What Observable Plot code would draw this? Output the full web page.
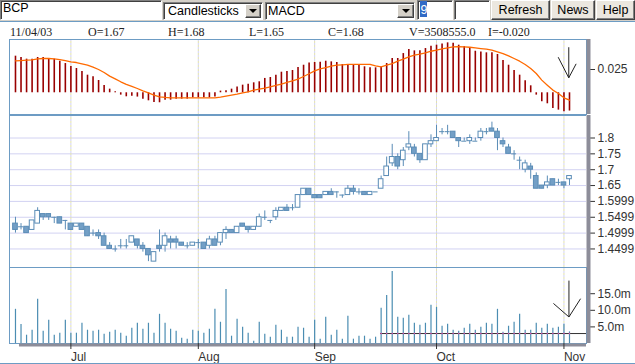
<!DOCTYPE html>
<html>
<head>
<meta charset="utf-8">
<script src="https://cdn.jsdelivr.net/npm/d3@7"></script>
<script src="https://cdn.jsdelivr.net/npm/@observablehq/plot@0.6"></script>
<style>
html,body{margin:0;padding:0;background:#fff;}
body{width:635px;height:364px;overflow:hidden;position:relative;}
svg{display:block;}
#toolbar{position:absolute;left:0;top:0;width:635px;height:21px;background:#d4d0c8;font-family:"Liberation Sans",Arial,sans-serif;font-size:12.5px;color:#000;}
#toolbar .box{position:absolute;box-sizing:border-box;background:#fff;border:1px solid;border-color:#808080 #fff #fff #808080;box-shadow:inset 1px 1px 0 #404040;}
#toolbar .txt{position:absolute;line-height:13px;white-space:nowrap;}
#toolbar .arrow{position:absolute;box-sizing:border-box;background:#d4d0c8;border:1px solid;border-color:#fff #404040 #404040 #fff;box-shadow:inset -1px -1px 0 #808080;}
#toolbar .arrow:after{content:"";position:absolute;left:50%;top:50%;margin-left:-4px;margin-top:-2px;border-left:4px solid transparent;border-right:4px solid transparent;border-top:4px solid #000;}
#toolbar .btn{position:absolute;top:0;height:20px;box-sizing:border-box;background:#ebe7df;border:1px solid;border-color:#fff #404040 #404040 #fff;box-shadow:inset -1px -1px 0 #808080;}
#toolbar .btn span{position:absolute;left:0;right:0;top:3.4px;text-align:center;line-height:13px;}
#topline{position:absolute;left:0;top:21px;width:635px;height:1px;background:#6d9cc4;}
#info{position:absolute;left:0;top:22px;width:635px;height:16px;background:#fff;font-family:"Liberation Serif","Times New Roman",serif;font-size:12px;color:#222;}
#info span{position:absolute;top:4px;line-height:12px;white-space:nowrap;}
#charts{position:absolute;left:0;top:38px;width:635px;}
#bottomline{position:absolute;left:0;top:363px;width:635px;height:1px;background:#6d9cc4;}
</style>
</head>
<body>
<div id="toolbar">
  <div class="box" style="left:0;top:0;width:162px;height:20px;"></div>
  <div class="txt" style="left:3px;top:2.4px;">BCP</div>
  <div class="box" style="left:163px;top:2px;width:100px;height:18px;"></div>
  <div class="txt" style="left:168px;top:5.4px;">Candlesticks</div>
  <div class="arrow" style="left:245px;top:4px;width:16px;height:14px;"></div>
  <div class="box" style="left:265px;top:2px;width:150px;height:18px;"></div>
  <div class="txt" style="left:268px;top:5.4px;">MACD</div>
  <div class="arrow" style="left:397px;top:4px;width:17px;height:14px;"></div>
  <div class="box" style="left:417px;top:0;width:36px;height:20px;"></div>
  <div style="position:absolute;left:420px;top:1px;width:7px;height:16px;background:#316ac5;"></div>
  <div class="txt" style="left:420.5px;top:3.8px;color:#fff;">9</div>
  <div class="box" style="left:454px;top:0;width:36px;height:20px;"></div>
  <div class="btn" style="left:491px;width:59px;"><span>Refresh</span></div>
  <div class="btn" style="left:551px;width:44px;"><span>News</span></div>
  <div class="btn" style="left:596px;width:39px;"><span>Help</span></div>
</div>
<div id="topline"></div>
<div id="info"></div>
<div id="charts"></div>
<div id="bottomline"></div>
<script>
// ---- data (trading days 17 Jun 2003 .. 4 Nov 2003, by index) ----
const open = [1.53,1.52,1.52,1.51,1.53,1.56,1.56,1.55,1.55,1.54,
1.53,1.52,1.53,1.52,1.50,1.50,1.49,1.46,1.45,1.46,
1.46,1.47,1.48,1.46,1.45,1.41,1.46,1.46,1.48,1.48,
1.47,1.46,1.46,1.47,1.47,1.46,1.48,1.47,1.50,1.51,
1.50,1.53,1.52,1.51,1.52,1.55,1.54,1.55,1.57,1.58,
1.58,1.58,1.62,1.64,1.62,1.62,1.62,1.63,1.63,1.62,
1.62,1.64,1.63,1.63,1.62,1.63,1.64,1.68,1.72,1.74,
1.73,1.77,1.77,1.75,1.73,1.78,1.79,1.82,1.82,1.82,
1.80,1.79,1.79,1.79,1.80,1.82,1.83,1.82,1.79,1.77,
1.75,1.73,1.70,1.71,1.68,1.65,1.65,1.67,1.66,1.66,
1.67];
const high = [1.55,1.53,1.52,1.54,1.58,1.56,1.56,1.55,1.55,1.54,
1.53,1.53,1.53,1.52,1.51,1.51,1.50,1.47,1.46,1.48,
1.48,1.49,1.48,1.47,1.45,1.44,1.51,1.50,1.49,1.49,
1.47,1.47,1.47,1.48,1.47,1.49,1.49,1.50,1.52,1.51,
1.52,1.53,1.52,1.52,1.56,1.57,1.54,1.58,1.58,1.59,
1.59,1.62,1.64,1.64,1.62,1.62,1.63,1.64,1.63,1.62,
1.65,1.65,1.64,1.63,1.63,1.63,1.68,1.74,1.78,1.75,
1.77,1.82,1.78,1.75,1.78,1.81,1.84,1.83,1.84,1.82,
1.80,1.80,1.81,1.80,1.83,1.83,1.85,1.83,1.80,1.78,
1.76,1.74,1.73,1.72,1.69,1.65,1.68,1.67,1.67,1.66,
1.68];
const low = [1.50,1.51,1.50,1.51,1.53,1.54,1.54,1.53,1.53,1.51,
1.51,1.52,1.51,1.49,1.49,1.48,1.46,1.45,1.44,1.45,
1.45,1.47,1.45,1.44,1.41,1.41,1.44,1.44,1.45,1.45,
1.46,1.45,1.46,1.45,1.45,1.45,1.46,1.46,1.48,1.50,
1.50,1.52,1.50,1.51,1.52,1.54,1.53,1.54,1.57,1.57,
1.57,1.58,1.62,1.62,1.61,1.61,1.62,1.62,1.61,1.61,
1.62,1.62,1.62,1.62,1.62,1.63,1.64,1.68,1.71,1.70,
1.71,1.76,1.74,1.72,1.73,1.77,1.79,1.81,1.81,1.80,
1.77,1.79,1.78,1.79,1.79,1.81,1.82,1.76,1.77,1.75,
1.73,1.70,1.69,1.67,1.64,1.64,1.64,1.65,1.65,1.64,
1.65];
const close = [1.51,1.52,1.50,1.54,1.57,1.55,1.55,1.55,1.53,1.54,
1.51,1.53,1.51,1.49,1.50,1.49,1.46,1.45,1.45,1.46,
1.46,1.49,1.46,1.45,1.43,1.44,1.45,1.49,1.47,1.47,
1.46,1.46,1.47,1.47,1.45,1.48,1.46,1.50,1.51,1.50,
1.52,1.52,1.51,1.52,1.55,1.55,1.54,1.57,1.58,1.57,
1.58,1.62,1.64,1.62,1.61,1.61,1.63,1.62,1.63,1.62,
1.64,1.63,1.63,1.62,1.63,1.63,1.67,1.71,1.74,1.71,
1.76,1.78,1.75,1.73,1.78,1.79,1.80,1.82,1.82,1.80,
1.79,1.79,1.80,1.79,1.82,1.82,1.82,1.80,1.78,1.75,
1.75,1.73,1.72,1.70,1.64,1.64,1.66,1.65,1.66,1.65,
1.68];
// volume in millions of shares
const volume = [10.3,5.7,2.5,4.0,13.3,3.7,7.0,2.5,3.1,7.0,
3.1,3.1,6.1,4.0,3.7,4.0,2.8,3.4,4.0,3.1,
2.2,4.6,6.1,4.3,6.1,3.1,8.8,6.1,4.3,3.7,
1.6,1.3,4.0,3.7,3.1,4.3,10.3,6.4,16.3,2.2,
7.3,4.9,3.1,0.7,6.4,2.8,1.9,5.5,4.0,1.9,
1.9,4.9,4.6,1.9,7.0,1.3,7.9,2.5,4.0,1.3,
8.2,1.3,2.2,2.2,1.3,1.9,10.6,14.5,21.7,7.9,
7.6,8.5,6.1,5.5,6.1,11.5,10.9,5.2,5.8,4.0,
3.7,4.6,5.8,4.0,4.9,6.1,5.8,10.3,3.4,5.2,
6.4,8.8,4.0,4.0,6.1,4.6,5.8,4.6,4.9,5.8,
3.5];
const macdHist = [0.0393,0.0379,0.0361,0.0361,0.0379,0.0379,0.0361,0.0361,0.0339,0.0314,
0.0282,0.0261,0.0229,0.0189,0.0171,0.0132,0.0079,0.0039,0.0011,-0.0025,
-0.0043,-0.0036,-0.0046,-0.0068,-0.0086,-0.0104,-0.0107,-0.0079,-0.0079,-0.0068,
-0.0068,-0.0068,-0.0054,-0.0054,-0.0054,-0.0054,-0.0046,0.0018,0.0021,0.0039,
0.0061,0.0082,0.0093,0.0107,0.0118,0.0154,0.0164,0.0189,0.0221,0.0229,
0.0239,0.0271,0.0296,0.0321,0.0325,0.0327,0.0339,0.0332,0.0325,0.0304,
0.0304,0.0304,0.0296,0.0279,0.0268,0.0268,0.0279,0.0314,0.0368,0.0368,
0.0421,0.0464,0.0450,0.0450,0.0475,0.0500,0.0511,0.0525,0.0536,0.0532,
0.0511,0.0496,0.0486,0.0446,0.0439,0.0429,0.0429,0.0411,0.0346,0.0296,
0.0239,0.0189,0.0129,0.0075,-0.0025,-0.0096,-0.0118,-0.0168,-0.0186,-0.0204,
-0.0196];
const macdSignal = [0.0343,0.0346,0.0350,0.0354,0.0364,0.0368,0.0368,0.0364,0.0357,0.0346,
0.0332,0.0325,0.0311,0.0296,0.0275,0.0250,0.0218,0.0179,0.0150,0.0118,
0.0090,0.0068,0.0046,0.0021,0.0000,-0.0025,-0.0043,-0.0050,-0.0054,-0.0054,
-0.0054,-0.0054,-0.0054,-0.0054,-0.0054,-0.0054,-0.0054,-0.0046,-0.0036,-0.0025,
-0.0014,0.0000,0.0011,0.0029,0.0039,0.0050,0.0064,0.0079,0.0093,0.0111,
0.0129,0.0146,0.0175,0.0204,0.0236,0.0257,0.0271,0.0286,0.0296,0.0300,
0.0304,0.0304,0.0304,0.0304,0.0304,0.0289,0.0279,0.0296,0.0314,0.0339,
0.0361,0.0386,0.0404,0.0414,0.0429,0.0446,0.0457,0.0471,0.0482,0.0493,
0.0496,0.0493,0.0489,0.0482,0.0475,0.0468,0.0457,0.0439,0.0421,0.0396,
0.0368,0.0339,0.0304,0.0261,0.0207,0.0136,0.0082,0.0029,-0.0007,-0.0054,
-0.0079];
const monthIdx = [10, 33, 54, 76, 99];
const monthLabels = ["Jul", "Aug", "Sep", "Oct", "Nov"];
const priceTicks = [1.8, 1.75, 1.7, 1.65, 1.6, 1.55, 1.5, 1.45];
const priceTickLabels = ["1.8", "1.75", "1.7", "1.65", "1.5999", "1.5499", "1.4999", "1.4499"];
const macdTicks = [0.025];
const macdTickLabels = ["0.025"];
const volTicks = [5, 10, 15];
const volTickLabels = ["5.0m", "10.0m", "15.0m"];
const avgVolume = 3.0;
const avgStart = 66;
const lastDate = "11/04/03";
const lastVolumeExact = "3508555.0";
// hand-drawn arrows (data units: day index, value)
const macdArrowX1 = [99.87, 97.96, 101.2], macdArrowY1 = [0.0489, 0.0382, 0.0311];
const macdArrowX2 = [99.87, 99.87, 99.87], macdArrowY2 = [0.0161, 0.0161, 0.0161];
const volArrowX1 = [99.9, 97.1, 102.0], volArrowY1 = [18.95, 12.07, 13.5];
const volArrowX2 = [99.9, 99.9, 99.9], volArrowY2 = [8.0, 8.0, 8.0];

// ---- info row ----
const last = open.length - 1;
const infoTexts = [lastDate, `O=${open[last].toFixed(2)}`, `H=${high[last].toFixed(2)}`, `L=${low[last].toFixed(2)}`,
  `C=${close[last].toFixed(2)}`, `V=${lastVolumeExact}`, `I=${macdHist[last].toFixed(3)}`];
const infoX = [10, 88, 168, 249, 328, 409, 488];
const info = document.getElementById("info");
infoTexts.forEach((t, k) => { const s = document.createElement("span"); s.textContent = t; s.style.left = infoX[k] + "px"; info.appendChild(s); });

// ---- charts ----
const W = 635, ML = 9, MR = 49;
const xDomain = [-1.08, 103.07];
const frameColor = "#6d9cc4", candleColor = "#5a8cb6", candleFill = "#739fc6";
const gridColor = "#d2d2f2", gridYellow = "#e2e2ae", barGray = "#8d8d99";
const style = {background: "white", fontFamily: "'Liberation Sans', Arial, sans-serif", fontSize: "12px", color: "#333", overflow: "visible"};
const idx = d3.range(open.length);
const fmt = (ticks, labels) => d => labels[ticks.indexOf(d)];
const monthGrid = () => [
  Plot.ruleX(monthIdx, {stroke: gridColor, strokeDasharray: "2,2"}),
  Plot.ruleX(monthIdx, {stroke: gridYellow, strokeDasharray: "2,2", strokeDashoffset: 2})
];
const rightAxis = (ticks, labels) => Plot.axisY(ticks, {anchor: "right", tickSize: 8, tickPadding: 3, tickFormat: fmt(ticks, labels)});
const grayBar = () => Plot.ruleX([xDomain[1]], {stroke: barGray, strokeWidth: 4, dx: 2});
const arrow = (X1, Y1, X2, Y2) => Plot.link(d3.range(X1.length), {x1: i => X1[i], y1: i => Y1[i], x2: i => X2[i], y2: i => Y2[i], stroke: "#222", strokeWidth: 1});

const macdChart = Plot.plot({
  width: W, height: 77, marginLeft: ML, marginRight: MR, marginTop: 1, marginBottom: 1,
  x: {domain: xDomain, axis: null},
  y: {domain: [-0.0233, 0.0572], axis: null},
  style,
  marks: [
    ...monthGrid(),
    Plot.ruleX(idx, {x: i => i, y1: 0, y2: i => macdHist[i], stroke: "#990000", strokeWidth: 1.6}),
    Plot.line(idx, {x: i => i, y: i => macdSignal[i], stroke: "#ff6a00", strokeWidth: 1.3}),
    arrow(macdArrowX1, macdArrowY1, macdArrowX2, macdArrowY2),
    Plot.frame({stroke: frameColor}),
    rightAxis(macdTicks, macdTickLabels),
    grayBar()
  ]
});

const up = idx.filter(i => close[i] > open[i]);
const down = idx.filter(i => close[i] < open[i]);
const flat = idx.filter(i => close[i] === open[i]);
const priceDomain = [1.3915, 1.871];
const priceChart = Plot.plot({
  width: W, height: 152, marginLeft: ML, marginRight: MR, marginTop: 0, marginBottom: 0,
  x: {domain: xDomain, axis: null},
  y: {domain: priceDomain, axis: null},
  style,
  marks: [
    Plot.ruleY(priceTicks, {stroke: gridColor}),
    ...monthGrid(),
    Plot.ruleX(idx, {x: i => i, y1: i => low[i], y2: i => high[i], stroke: candleColor}),
    Plot.rect(up, {x1: i => i - 0.42, x2: i => i + 0.42, y1: i => open[i], y2: i => close[i], fill: "white", stroke: candleColor}),
    Plot.rect(down, {x1: i => i - 0.42, x2: i => i + 0.42, y1: i => open[i], y2: i => close[i], fill: candleFill, stroke: candleColor}),
    Plot.ruleY(flat, {y: i => close[i], x1: i => i - 0.45, x2: i => i + 0.45, stroke: candleColor}),
    Plot.ruleX([xDomain[0]], {stroke: frameColor}),
    Plot.ruleY([priceDomain[1]], {stroke: frameColor}),
    rightAxis(priceTicks, priceTickLabels),
    grayBar()
  ]
});

const volChart = Plot.plot({
  width: W, height: 96, marginLeft: ML, marginRight: MR, marginTop: 0, marginBottom: 20,
  x: {domain: xDomain, axis: null},
  y: {domain: [0, 22.9], axis: null},
  style,
  marks: [
    ...monthGrid(),
    Plot.ruleX(idx, {x: i => i, y1: 0, y2: i => volume[i], stroke: "#4b8db2", strokeWidth: 1.2}),
    Plot.ruleY([avgVolume], {x1: avgStart - 0.1, x2: xDomain[1], stroke: "#333"}),
    Plot.dot(idx.filter(i => i >= avgStart), {x: i => i, y: avgVolume, r: 0.8, fill: "#e050b0"}),
    arrow(volArrowX1, volArrowY1, volArrowX2, volArrowY2),
    Plot.frame({stroke: frameColor}),
    Plot.ruleY([0], {x1: 0.72, x2: xDomain[1], stroke: barGray, strokeWidth: 3, dy: 1.5}),
    rightAxis(volTicks, volTickLabels),
    grayBar(),
    Plot.axisX(monthIdx, {anchor: "bottom", tickSize: 6, tickPadding: 2.5, textAnchor: "start", tickFormat: fmt(monthIdx, monthLabels)})
  ]
});

const charts = document.getElementById("charts");
charts.appendChild(macdChart);
charts.appendChild(priceChart);
charts.appendChild(volChart);
</script>
</body>
</html>
